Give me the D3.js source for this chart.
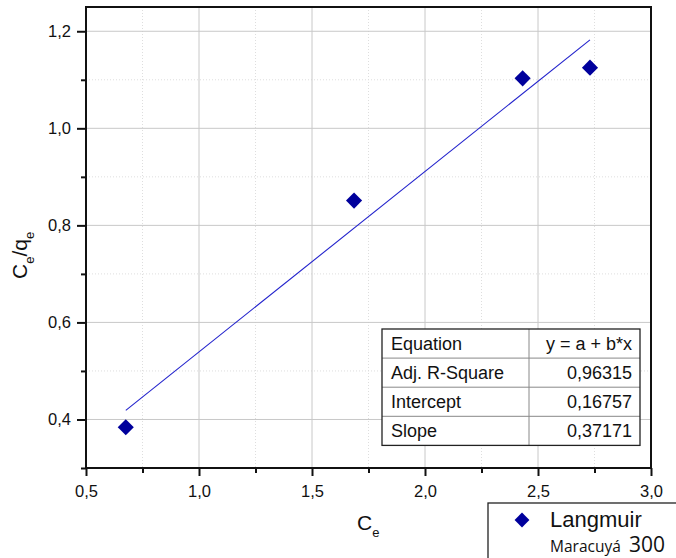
<!DOCTYPE html>
<html>
<head>
<meta charset="utf-8">
<script src="https://cdn.jsdelivr.net/npm/d3@7"></script>
<style>
  html, body { margin: 0; padding: 0; background: #fff; }
  svg { display: block; }
  text { font-family: "Liberation Sans", Arial, sans-serif; fill: #111; }
</style>
</head>
<body>
<svg id="chart" width="676" height="558"></svg>
<script>
// Langmuir linearisation: Ce/qe against Ce
const ceValues = [0.676, 1.686, 2.432, 2.730];
const ceOverQe = [0.384, 0.851, 1.103, 1.125];

// Linear fit reported in the results table
const fitIntercept = 0.16757;
const fitSlope = 0.37171;
const fitAdjR2 = 0.96315;

const xTicks = [0.5, 1.0, 1.5, 2.0, 2.5, 3.0];
const xMinorTicks = [0.75, 1.25, 1.75, 2.25, 2.75];
const yTicks = [0.4, 0.6, 0.8, 1.0, 1.2];
const yMinorTicks = [0.3, 0.5, 0.7, 0.9, 1.1];

const tableLabels = ["Equation", "Adj. R-Square", "Intercept", "Slope"];
const fmt5 = v => v.toFixed(5).replace(".", ",");
const tableValues = ["y = a + b*x", fmt5(fitAdjR2), fmt5(fitIntercept), fmt5(fitSlope)];

const svg = d3.select("#chart");
const plot = { left: 86, right: 651, top: 7, bottom: 468 };

const x = d3.scaleLinear().domain([0.5, 3.0]).range([plot.left, plot.right]);
const y = d3.scaleLinear().domain([0.3, 1.25]).range([plot.bottom, plot.top]);
const comma = v => d3.format(".1f")(v).replace(".", ",");

// grid: minor dotted, major solid
const grid = svg.append("g");
grid.selectAll(".xminor").data(xMinorTicks).join("line")
  .attr("x1", d => x(d)).attr("x2", d => x(d))
  .attr("y1", plot.top).attr("y2", plot.bottom)
  .attr("stroke", "#dedede").attr("stroke-width", 1).attr("stroke-dasharray", "1,2");
grid.selectAll(".yminor").data(yMinorTicks.filter(v => v > 0.3)).join("line")
  .attr("y1", d => y(d)).attr("y2", d => y(d))
  .attr("x1", plot.left).attr("x2", plot.right)
  .attr("stroke", "#dedede").attr("stroke-width", 1).attr("stroke-dasharray", "1,2");
grid.selectAll(".xmajor").data(xTicks.filter(v => v > 0.5 && v < 3.0)).join("line")
  .attr("x1", d => x(d)).attr("x2", d => x(d))
  .attr("y1", plot.top).attr("y2", plot.bottom)
  .attr("stroke", "#c8c8c8").attr("stroke-width", 1);
grid.selectAll(".ymajor").data(yTicks).join("line")
  .attr("y1", d => y(d)).attr("y2", d => y(d))
  .attr("x1", plot.left).attr("x2", plot.right)
  .attr("stroke", "#c8c8c8").attr("stroke-width", 1);

// fitted line over the data range
const xFit = d3.extent(ceValues);
svg.append("line")
  .attr("x1", x(xFit[0])).attr("y1", y(fitIntercept + fitSlope * xFit[0]))
  .attr("x2", x(xFit[1])).attr("y2", y(fitIntercept + fitSlope * xFit[1]))
  .attr("stroke", "#2222cc").attr("stroke-width", 1.1);

// data points
const diamond = d3.symbol().type(d3.symbolSquare).size(130);
svg.selectAll(".pt").data(ceValues.map((c, i) => [c, ceOverQe[i]])).join("path")
  .attr("d", diamond)
  .attr("transform", d => `translate(${x(d[0])},${y(d[1])}) rotate(45)`)
  .attr("fill", "#00009c");

// frame
svg.append("rect")
  .attr("x", plot.left).attr("y", plot.top)
  .attr("width", plot.right - plot.left).attr("height", plot.bottom - plot.top)
  .attr("fill", "none").attr("stroke", "#111").attr("stroke-width", 2);

// axes
svg.append("g").attr("transform", `translate(0,${plot.bottom})`)
  .call(d3.axisBottom(x).tickValues(xTicks).tickFormat(comma).tickSize(8).tickPadding(9));
svg.append("g").attr("transform", `translate(0,${plot.bottom})`)
  .call(d3.axisBottom(x).tickValues(xMinorTicks).tickFormat("").tickSize(5));
svg.append("g").attr("transform", `translate(${plot.left},0)`)
  .call(d3.axisLeft(y).tickValues(yTicks).tickFormat(comma).tickSize(9).tickPadding(6));
svg.append("g").attr("transform", `translate(${plot.left},0)`)
  .call(d3.axisLeft(y).tickValues(yMinorTicks).tickFormat("").tickSize(5));
svg.selectAll(".domain").remove();
svg.selectAll(".tick line").attr("stroke", "#111").attr("stroke-width", 2);
svg.selectAll(".tick text").style("font-size", "16.5px").style("fill", "#111")
  .style("font-family", "'Liberation Sans', Arial, sans-serif");

// axis titles
const xt = svg.append("text").attr("x", 357).attr("y", 530).attr("font-size", 21);
xt.append("tspan").text("C");
xt.append("tspan").attr("font-size", 13).attr("dy", 7).text("e");

const yt = svg.append("text").attr("transform", "translate(27,279) rotate(-90)").attr("font-size", 21);
yt.append("tspan").text("C");
yt.append("tspan").attr("font-size", 13).attr("dy", 7).text("e");
yt.append("tspan").attr("dy", -7).text("/q");
yt.append("tspan").attr("font-size", 13).attr("dy", 7).text("e");

// results table
const tbl = { x: 382, y: 329, w: 258, rowH: 29.1, col: 529 };
const tg = svg.append("g");
tg.append("rect").attr("x", tbl.x).attr("y", tbl.y)
  .attr("width", tbl.w).attr("height", tbl.rowH * tableLabels.length)
  .attr("fill", "#fff");
tg.selectAll(".rowline").data(d3.range(1, tableLabels.length)).join("line")
  .attr("x1", tbl.x).attr("x2", tbl.x + tbl.w)
  .attr("y1", i => tbl.y + i * tbl.rowH).attr("y2", i => tbl.y + i * tbl.rowH)
  .attr("stroke", "#888").attr("stroke-width", 1);
tg.append("line").attr("x1", tbl.col).attr("x2", tbl.col)
  .attr("y1", tbl.y).attr("y2", tbl.y + tbl.rowH * tableLabels.length)
  .attr("stroke", "#888").attr("stroke-width", 1);
tg.append("rect").attr("x", tbl.x).attr("y", tbl.y)
  .attr("width", tbl.w).attr("height", tbl.rowH * tableLabels.length)
  .attr("fill", "none").attr("stroke", "#222").attr("stroke-width", 1.3);
tg.selectAll(".lab").data(tableLabels).join("text")
  .attr("x", tbl.x + 9).attr("y", (d, i) => tbl.y + i * tbl.rowH + 20.5)
  .attr("font-size", 18).text(d => d);
tg.selectAll(".val").data(tableValues).join("text")
  .attr("x", tbl.x + tbl.w - 8).attr("y", (d, i) => tbl.y + i * tbl.rowH + 20.5)
  .attr("text-anchor", "end").attr("font-size", 18).text(d => d);

// legend
const lg = svg.append("g");
lg.append("rect").attr("x", 488).attr("y", 503).attr("width", 200).attr("height", 70)
  .attr("fill", "#fff").attr("stroke", "#222").attr("stroke-width", 1.3);
lg.append("path").attr("d", d3.symbol().type(d3.symbolSquare).size(110))
  .attr("transform", "translate(522,520) rotate(45)").attr("fill", "#00009c");
lg.append("text").attr("x", 550).attr("y", 527).attr("font-size", 22).text("Langmuir");
const sub = lg.append("text").attr("x", 550).attr("y", 552);
sub.append("tspan").style("font-family", "'Open Sans', sans-serif").style("font-size", "15.5px").text("Maracuyá");
sub.append("tspan").attr("x", 629).style("font-family", "'Open Sans', sans-serif").style("font-size", "21px").text("300");
</script>
</body>
</html>
